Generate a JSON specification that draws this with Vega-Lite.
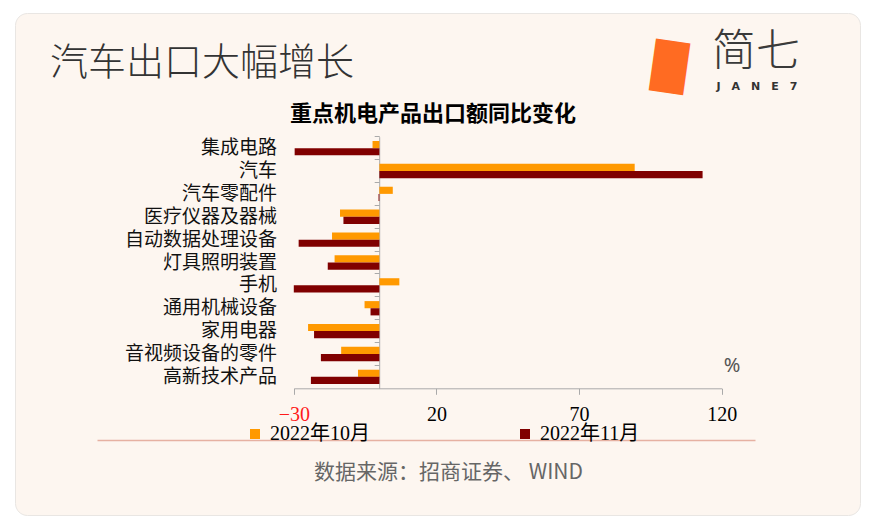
{
  "$schema": "https://vega.github.io/schema/vega-lite/v6.json",
  "width": 845,
  "height": 502,
  "autosize": {"type": "none"},
  "padding": {"left": 15, "top": 13, "right": 15, "bottom": 13},
  "background": "#ffffff",
  "title": {
    "text": "汽车出口大幅增长",
    "anchor": "start",
    "frame": "group",
    "dx": 35,
    "offset": -70,
    "font": "Noto Sans CJK SC",
    "fontSize": 38,
    "fontWeight": 300,
    "color": "#333333"
  },
  "config": {
    "view": {"fill": "#fdf6f0", "stroke": "#e9e6e3", "cornerRadius": 12}
  },
  "layer": [
    {
      "data": {
        "values": [
          {"product": "集成电路", "month": "2022年10月", "value": -2.4},
          {"product": "集成电路", "month": "2022年11月", "value": -29.7},
          {"product": "汽车", "month": "2022年10月", "value": 89.5},
          {"product": "汽车", "month": "2022年11月", "value": 113.3},
          {"product": "汽车零配件", "month": "2022年10月", "value": 4.7},
          {"product": "汽车零配件", "month": "2022年11月", "value": -0.3},
          {"product": "医疗仪器及器械", "month": "2022年10月", "value": -13.8},
          {"product": "医疗仪器及器械", "month": "2022年11月", "value": -12.6},
          {"product": "自动数据处理设备", "month": "2022年10月", "value": -16.6},
          {"product": "自动数据处理设备", "month": "2022年11月", "value": -28.3},
          {"product": "灯具照明装置", "month": "2022年10月", "value": -15.7},
          {"product": "灯具照明装置", "month": "2022年11月", "value": -18.1},
          {"product": "手机", "month": "2022年10月", "value": 7.0},
          {"product": "手机", "month": "2022年11月", "value": -30.0},
          {"product": "通用机械设备", "month": "2022年10月", "value": -5.2},
          {"product": "通用机械设备", "month": "2022年11月", "value": -3.1},
          {"product": "家用电器", "month": "2022年10月", "value": -25.0},
          {"product": "家用电器", "month": "2022年11月", "value": -22.9},
          {"product": "音视频设备的零件", "month": "2022年10月", "value": -13.4},
          {"product": "音视频设备的零件", "month": "2022年11月", "value": -20.5},
          {"product": "高新技术产品", "month": "2022年10月", "value": -7.5},
          {"product": "高新技术产品", "month": "2022年11月", "value": -24.0}
        ]
      },
      "mark": {"type": "bar"},
      "encoding": {
        "y": {
          "field": "product",
          "type": "nominal",
          "sort": ["集成电路", "汽车", "汽车零配件", "医疗仪器及器械", "自动数据处理设备", "灯具照明装置", "手机", "通用机械设备", "家用电器", "音视频设备的零件", "高新技术产品"],
          "scale": {
            "domain": ["集成电路", "汽车", "汽车零配件", "医疗仪器及器械", "自动数据处理设备", "灯具照明装置", "手机", "通用机械设备", "家用电器", "音视频设备的零件", "高新技术产品"],
            "range": [123.7, 375.3],
            "paddingInner": 0,
            "paddingOuter": 0
          },
          "axis": {
            "orient": "left",
            "offset": -261.6,
            "domain": false,
            "ticks": false,
            "tickSize": 0,
            "labelPadding": 0,
            "title": null,
            "labelFont": "Noto Sans CJK SC",
            "labelFontSize": 19,
            "labelColor": "#111111",
            "labelLimit": 300
          }
        },
        "yOffset": {
          "field": "month",
          "type": "nominal",
          "sort": ["2022年10月", "2022年11月"],
          "scale": {"paddingOuter": 0.6, "paddingInner": 0}
        },
        "x": {
          "field": "value",
          "type": "quantitative",
          "scale": {"domain": [-30, 120], "range": [278.8, 706.7], "nice": false},
          "axis": {
            "orient": "bottom",
            "offset": -126.7,
            "values": [-30, 20, 70, 120],
            "grid": false,
            "domainColor": "#aaaaaa",
            "tickColor": "#aaaaaa",
            "tickSize": 6,
            "labelPadding": 10,
            "labelFlush": false,
            "labelOverlap": false,
            "labelFont": "Liberation Serif",
            "labelFontSize": 20,
            "labelColor": {"condition": {"test": "datum.value === -30", "value": "#ff1a1a"}, "value": "#000000"},
            "title": "重点机电产品出口额同比变化",
            "titleX": 417.6,
            "titleY": -274.5,
            "titleAlign": "center",
            "titleBaseline": "middle",
            "titleAngle": 0,
            "titleFont": "Noto Sans CJK SC",
            "titleFontSize": 22,
            "titleFontWeight": "bold",
            "titleColor": "#000000"
          }
        },
        "color": {
          "field": "month",
          "type": "nominal",
          "scale": {"domain": ["2022年10月", "2022年11月"], "range": ["#ff9900", "#800000"]},
          "legend": {
            "orient": "none",
            "legendX": 230,
            "legendY": 411,
            "direction": "horizontal",
            "title": null,
            "symbolType": "square",
            "symbolSize": 100,
            "symbolStrokeWidth": 0,
            "labelFont": "Liberation Serif, Noto Sans CJK SC",
            "labelFontSize": 20,
            "labelColor": "#000000",
            "labelOffset": 5,
            "columnPadding": 145,
            "padding": 0
          }
        }
      }
    },
    {
      "data": {"values": [{}]},
      "layer": [
        {
          "mark": {"type": "text", "text": "%", "font": "Noto Sans", "fontSize": 20, "color": "#555555", "dy": -11, "align": "center", "baseline": "middle"},
          "encoding": {
            "x": {
              "datum": 96.5,
              "type": "quantitative",
              "scale": {"domain": [0, 100], "range": [82, 740], "nice": false, "zero": false},
              "axis": {
                "orient": "bottom",
                "offset": -75,
                "ticks": false,
                "labels": false,
                "grid": false,
                "domainColor": "#e6b1a2",
                "domainWidth": 1.5,
                "title": "数据来源：招商证券、 WIND",
                "titleX": 433,
                "titleY": 32,
                "titleAlign": "center",
                "titleBaseline": "middle",
                "titleAngle": 0,
                "titleFont": "Noto Sans CJK SC",
                "titleFontSize": 21,
                "titleFontWeight": "normal",
                "titleColor": "#666666"
              }
            },
            "y": {
              "datum": "高新技术产品",
              "type": "nominal",
              "axis": {
                "orient": "left",
                "offset": -364.2,
                "labels": false,
                "ticks": true,
                "tickSize": 5,
                "tickColor": "#aaaaaa",
                "domainColor": "#aaaaaa",
                "bandPosition": 0,
                "grid": false,
                "title": null
              }
            }
          }
        },
        {
          "mark": {"type": "text", "text": "█", "font": "DejaVu Sans", "fontSize": 44, "color": "#ff6b22", "angle": 8, "dy": -80, "align": "center", "baseline": "middle"},
          "encoding": {
            "x": {"datum": 85.3, "type": "quantitative"},
            "y": {"datum": "集成电路", "type": "nominal"}
          }
        },
        {
          "mark": {"type": "text", "text": "简七", "font": "Noto Sans CJK SC", "fontSize": 44, "fontWeight": 300, "color": "#3a3a3a", "dy": -95, "align": "center", "baseline": "middle"},
          "encoding": {
            "x": {"datum": 100.15, "type": "quantitative"},
            "y": {"datum": "集成电路", "type": "nominal"}
          }
        },
        {
          "mark": {"type": "text", "text": "J\u2003A\u2003N\u2003E\u20037", "font": "DejaVu Sans", "fontSize": 11, "fontWeight": "bold", "color": "#333333", "dy": -61, "align": "center", "baseline": "middle"},
          "encoding": {
            "x": {"datum": 100.3, "type": "quantitative"},
            "y": {"datum": "集成电路", "type": "nominal"}
          }
        }
      ]
    }
  ],
  "resolve": {"scale": {"x": "independent"}, "axis": {"y": "independent"}}
}
